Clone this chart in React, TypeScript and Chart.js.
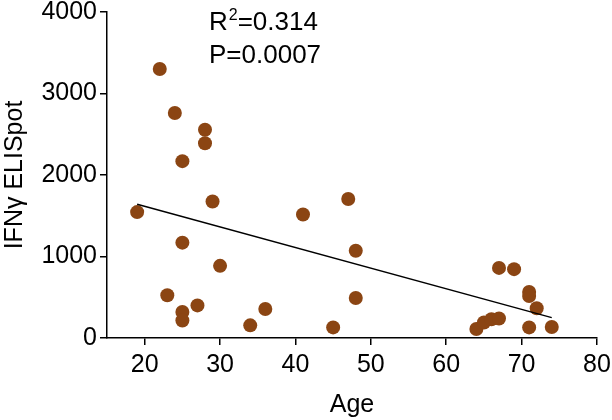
import React, { useEffect, useRef } from "react";
import { Chart, registerables } from "chart.js";

Chart.register(...registerables);

const ages = [19, 22, 24, 25, 28, 28, 29, 25, 30, 23, 25, 25, 27, 34, 36, 41, 47, 48, 48, 45, 67, 69, 71, 71, 72, 64, 65, 66, 67, 71, 74];
const elispot = [1545, 3300, 2760, 2170, 2555, 2390, 1675, 1170, 885, 525, 320, 215, 400, 155, 355, 1515, 1705, 1070, 490, 130, 860, 845, 565, 515, 365, 110, 190, 230, 240, 130, 135];
const fitX = [19, 74];
const fitY = [1640, 250];
const xTicks = [20, 30, 40, 50, 60, 70, 80];
const yTicks = [0, 1000, 2000, 3000, 4000];
const statLines = ["R", "2", "=0.314", "P=0.0007"];

const FONT = "'Liberation Sans', Arial, sans-serif";

const annotPlugin = {
  id: "annot",
  afterDraw(chart: any) {
    const ctx = chart.ctx;
    ctx.save();
    ctx.fillStyle = "#000";
    ctx.textBaseline = "alphabetic";
    ctx.textAlign = "left";
    ctx.font = `26px ${FONT}`;
    const x0 = 209;
    ctx.fillText(statLines[0], x0, 30);
    const w0 = ctx.measureText(statLines[0]).width;
    ctx.font = `16px ${FONT}`;
    ctx.fillText(statLines[1], x0 + w0 + 1, 20);
    const w1 = ctx.measureText(statLines[1]).width;
    ctx.font = `26px ${FONT}`;
    ctx.fillText(statLines[2], x0 + w0 + w1 + 1, 30);
    ctx.fillText(statLines[3], x0, 63);
    ctx.restore();
  },
};

export default function App() {
  const ref = useRef<HTMLCanvasElement>(null);
  useEffect(() => {
    document.body.style.margin = "0";
    const canvas = ref.current!;
    const chart = new Chart(canvas, {
      type: "scatter",
      data: {
        datasets: [
          {
            type: "line",
            data: fitX.map((x, i) => ({ x, y: fitY[i] })),
            borderColor: "#000",
            borderWidth: 1.5,
            pointRadius: 0,
            fill: false,
          } as any,
          {
            data: ages.map((x, i) => ({ x, y: elispot[i] })),
            backgroundColor: "#8B4513",
            borderWidth: 0,
            pointRadius: 7,
          },
        ],
      },
      options: {
        animation: false,
        responsive: false,
        events: [],
        layout: { padding: { top: 12, right: 15, left: 0, bottom: 0 } },
        plugins: { legend: { display: false }, tooltip: { enabled: false } },
        scales: {
          x: {
            type: "linear",
            min: 15,
            max: 80,
            afterBuildTicks: (s: any) => {
              s.ticks = xTicks.map((v) => ({ value: v }));
            },
            afterFit: (s: any) => {
              s.height = 82;
              s.paddingLeft = 0;
              s.paddingRight = 0;
            },
            grid: { drawOnChartArea: false, drawTicks: true, tickLength: 7, color: "#000", lineWidth: 1.5 },
            border: { color: "#000", width: 1.5 },
            ticks: { color: "#000", font: { family: FONT, size: 25 }, padding: 5, maxRotation: 0, callback: (v: any) => String(v) },
            title: { display: true, text: "Age", color: "#000", font: { family: FONT, size: 25 }, padding: { top: 8, bottom: 0 } },
          },
          y: {
            type: "linear",
            min: 0,
            max: 4000,
            afterBuildTicks: (s: any) => {
              s.ticks = yTicks.map((v) => ({ value: v }));
            },
            afterFit: (s: any) => {
              s.width = 107;
              s.paddingTop = 0;
              s.paddingBottom = 0;
            },
            grid: { drawOnChartArea: false, drawTicks: true, tickLength: 7, color: "#000", lineWidth: 1.5 },
            border: { color: "#000", width: 1.5 },
            ticks: { color: "#000", font: { family: FONT, size: 25 }, padding: 3, callback: (v: any) => String(v) },
            title: { display: true, text: "IFNγ ELISpot", color: "#000", font: { family: FONT, size: 25 }, padding: { top: 0, bottom: 4 } },
          },
        },
      },
      plugins: [annotPlugin],
    });
    return () => chart.destroy();
  }, []);
  return (
    <div style={{ width: 612, height: 420 }}>
      <canvas ref={ref} width={612} height={420} style={{ display: "block" }} />
    </div>
  );
}
